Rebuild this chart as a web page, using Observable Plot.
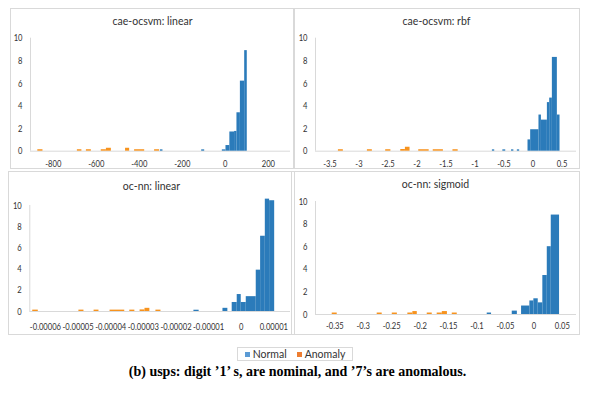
<!DOCTYPE html>
<html><head><meta charset="utf-8">
<script src="https://cdn.jsdelivr.net/npm/d3@7"></script>
<script src="https://cdn.jsdelivr.net/npm/@observablehq/plot@0.6"></script>
<style>
body{margin:0;background:#fff;}
#fig{position:relative;width:595px;height:393px;overflow:hidden;background:#fff;}
.box{position:absolute;border:1px solid #d9d9d9;box-sizing:border-box;}
.ttl{position:absolute;text-align:center;font-family:Lato,sans-serif;font-size:10.5px;color:#333;white-space:nowrap;transform:translateX(-50%);}
.plot{position:absolute;}
#legend{position:absolute;left:237px;top:347px;width:116px;height:14px;border:1px solid #d9d9d9;box-sizing:border-box;font-family:Lato,sans-serif;font-size:10.5px;color:#333;display:flex;align-items:center;justify-content:center;gap:10px;}
#legend span.sw{display:inline-block;width:5px;height:5px;margin-right:3px;vertical-align:middle;position:relative;top:-1px;}
#caption{position:absolute;left:0;width:595px;top:364px;text-align:center;font-family:"Liberation Serif",serif;font-weight:bold;font-size:14px;color:#000;}
</style></head>
<body><div id="fig"></div>
<script>
// ---- data (bins: [lower edge, upper edge, height]) ----
const seriesNames = ["Normal", "Anomaly"];
const yTicks = [0, 2, 4, 6, 8, 10];

// Panel 1: cae-ocsvm: linear
const p1Title = "cae-ocsvm: linear";
const p1Ticks = [-800, -600, -400, -200, 0, 200];
const p1TickLabels = ["-800", "-600", "-400", "-200", "0", "200"];
const p1Normal = [[-302,-290,0.12],[-110,-96,0.12],[-14,3,0.12],[3,21,0.5],[21,43,1.7],[43,54,1.75],[54,70,3.4],[70,90,6.2],[90,102,8.9]];
const p1Anomaly = [[-872,-848,0.13],[-688,-667,0.13],[-646,-623,0.13],[-577,-553,0.13],[-553,-530,0.26],[-464,-445,0.26],[-422,-375,0.13],[-329,-306,0.13]];

// Panel 2: cae-ocsvm: rbf
const p2Title = "cae-ocsvm: rbf";
const p2Ticks = [-3.5, -3, -2.5, -2, -1.5, -1, -0.5, 0, 0.5];
const p2TickLabels = ["-3.5", "-3", "-2.5", "-2", "-1.5", "-1", "-0.5", "0", "0.5"];
const p2Normal = [[-0.70,-0.66,0.12],[-0.52,-0.47,0.12],[-0.37,-0.33,0.12],[-0.27,-0.23,0.12],[-0.086,-0.04,1.0],[-0.04,0.103,1.9],[0.103,0.145,3.2],[0.145,0.248,2.75],[0.248,0.288,4.3],[0.288,0.334,4.7],[0.334,0.42,8.3],[0.42,0.466,3.2]];
const p2Anomaly = [[-3.355,-3.27,0.13],[-2.855,-2.77,0.13],[-2.54,-2.45,0.13],[-2.28,-2.2,0.15],[-2.2,-2.12,0.35],[-1.97,-1.79,0.13],[-1.72,-1.545,0.13],[-1.38,-1.29,0.13]];

// Panel 3: oc-nn: linear
const p3Title = "oc-nn: linear";
const p3Ticks = [-0.00006, -0.00005, -0.00004, -0.00003, -0.00002, -0.00001, 0, 0.00001];
const p3TickLabels = ["-0.00006", "-0.00005", "-0.00004", "-0.00003", "-0.00002", "-0.00001", "0", "0.00001"];
const p3Normal = [[-1.45e-5,-1.29e-5,0.12],[-0.56e-5,-0.41e-5,0.3],[-0.277e-5,-0.123e-5,0.85],[-0.123e-5,0,1.6],[0,0.154e-5,0.85],[0.154e-5,0.46e-5,1.4],[0.46e-5,0.594e-5,3.9],[0.594e-5,0.738e-5,7.1],[0.738e-5,0.87e-5,10.6],[0.87e-5,1.025e-5,10.45]];
const p3Anomaly = [[-6.39e-5,-6.22e-5,0.13],[-4.975e-5,-4.82e-5,0.13],[-4.51e-5,-4.36e-5,0.13],[-4.02e-5,-3.57e-5,0.13],[-3.415e-5,-3.26e-5,0.13],[-3.10e-5,-2.95e-5,0.15],[-2.95e-5,-2.80e-5,0.3],[-2.615e-5,-2.46e-5,0.13]];

// Panel 4: oc-nn: sigmoid
const p4Title = "oc-nn: sigmoid";
const p4Ticks = [-0.35, -0.3, -0.25, -0.2, -0.15, -0.1, -0.05, 0, 0.05];
const p4TickLabels = ["-0.35", "-0.3", "-0.25", "-0.2", "-0.15", "-0.1", "-0.05", "0", "0.05"];
const p4Normal = [[-0.082,-0.0744,0.13],[-0.038,-0.029,0.3],[-0.0216,-0.007,0.75],[-0.007,0,1.2],[0,0.0077,1.39],[0.0077,0.0158,1.03],[0.0158,0.0236,3.45],[0.0236,0.0306,6.0],[0.0306,0.0452,8.8]];
const p4Anomaly = [[-0.3546,-0.3458,0.13],[-0.2755,-0.2667,0.13],[-0.249,-0.240,0.13],[-0.2216,-0.2128,0.13],[-0.2128,-0.205,0.26],[-0.1875,-0.1787,0.13],[-0.170,-0.161,0.13],[-0.161,-0.152,0.26],[-0.1435,-0.1347,0.13]];

const captionText = "(b) usps: digit \u20191\u2019 s, are nominal, and \u20197\u2019s are anomalous.";

// ---- styling / layout ----
const barBlue = "#2b7bba", barOrange = "#f7931e";
const legBlue = "#5b9bd5", legOrange = "#ed7d31";
const tickFont = "Lato, sans-serif";
const squeeze = 0.78; // horizontal condensing of tick text (Calibri-like width)

const panels = [
  {title: p1Title, ticks: p1Ticks, labels: p1TickLabels, normal: p1Normal, anomaly: p1Anomaly,
   box: [10, 8, 285, 161], m: [29.7, 5, 18.3, 20], domain: [-906, 303], pad: 9, titleY: 15},
  {title: p2Title, ticks: p2Ticks, labels: p2TickLabels, normal: p2Normal, anomaly: p2Anomaly,
   box: [293, 8, 287, 161], m: [29.7, 4, 18.3, 22], domain: [-3.75, 0.75], pad: 9, titleY: 15},
  {title: p3Title, ticks: p3Ticks, labels: p3TickLabels, normal: p3Normal, anomaly: p3Anomaly,
   box: [8, 171, 287, 164], m: [34, 5, 24, 21.3], domain: [-6.48e-5, 1.51e-5], pad: 11.5, titleY: 180},
  {title: p4Title, ticks: p4Ticks, labels: p4TickLabels, normal: p4Normal, anomaly: p4Anomaly,
   box: [291, 171, 289, 164], m: [30, 4, 21, 24], domain: [-0.384, 0.075], pad: 8, titleY: 178}
];

const fig = document.getElementById("fig");
for (const p of panels) {
  const b = document.createElement("div");
  b.className = "box";
  Object.assign(b.style, {left: p.box[0] + "px", top: p.box[1] + "px", width: p.box[2] + "px", height: p.box[3] + "px"});
  fig.appendChild(b);

  const t = document.createElement("div");
  t.className = "ttl";
  t.textContent = p.title;
  Object.assign(t.style, {left: (p.box[0] + p.box[2] / 2) + "px", top: p.titleY + "px"});
  fig.appendChild(t);

  const labelOf = new Map(p.ticks.map((v, i) => [v, p.labels[i]]));
  const chart = Plot.plot({
    width: p.box[2], height: p.box[3],
    marginTop: p.m[0], marginRight: p.m[1], marginBottom: p.m[2], marginLeft: p.m[3],
    style: {fontFamily: tickFont, fontSize: "9.8px", color: "#333", background: "transparent", overflow: "visible"},
    x: {domain: p.domain, ticks: p.ticks, tickFormat: d => labelOf.get(d), tickSize: 0, tickPadding: p.pad, label: null},
    y: {domain: [0, 10], ticks: yTicks, tickSize: 0, tickPadding: 8, label: null},
    marks: [
      Plot.ruleY([0], {stroke: "#d9d9d9"}),
      Plot.ruleX([p.domain[0]], {stroke: "#d9d9d9"}),
      Plot.rectY(p.normal, {x1: d => d[0], x2: d => d[1], y: d => d[2], fill: barBlue}),
      Plot.rectY(p.anomaly, {x1: d => d[0], x2: d => d[1], y: d => d[2], fill: barOrange})
    ]
  });
  // condense tick label glyphs horizontally, around each label's own anchor
  chart.querySelectorAll("text").forEach(el => {
    const tr = el.getAttribute("transform") || "";
    el.setAttribute("transform", (tr + ` scale(${squeeze},1)`).trim());
  });
  Object.assign(chart.style, {left: p.box[0] + "px", top: p.box[1] + "px", position: "absolute"});
  fig.appendChild(chart);
}

// legend
const leg = document.createElement("div");
leg.id = "legend";
[[seriesNames[0], legBlue], [seriesNames[1], legOrange]].forEach(([name, c]) => {
  const s = document.createElement("span");
  s.innerHTML = `<span class="sw" style="background:${c}"></span>${name}`;
  leg.appendChild(s);
});
fig.appendChild(leg);

const cap = document.createElement("div");
cap.id = "caption";
cap.textContent = captionText;
fig.appendChild(cap);
</script>
</body></html>
